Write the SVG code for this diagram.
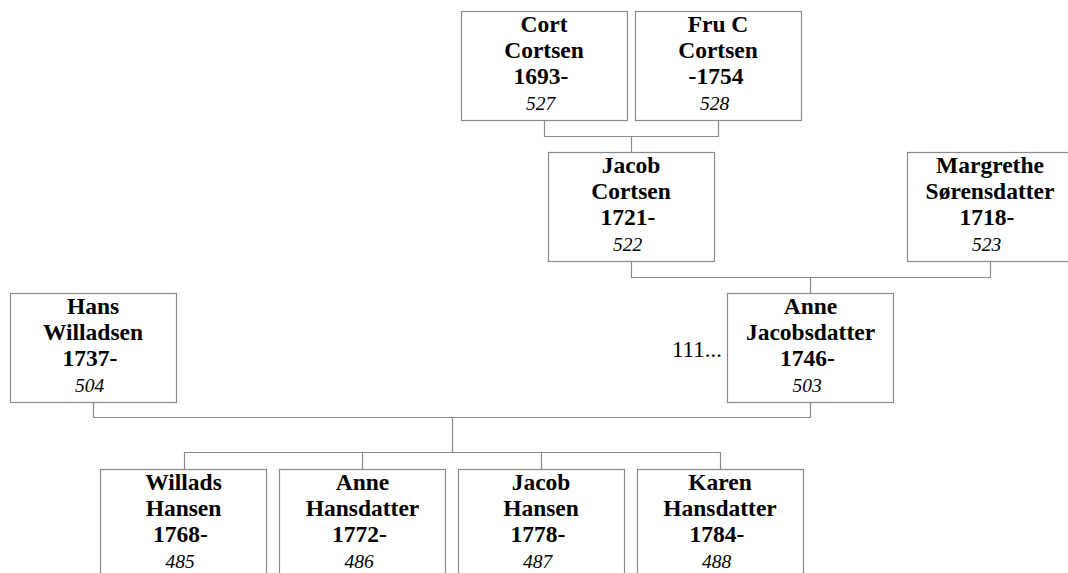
<svg xmlns="http://www.w3.org/2000/svg" width="1068" height="573" viewBox="0 0 1068 573">
<style>
.box{fill:#fff;stroke:#8a8a8a;stroke-width:1.2}
.ln{fill:none;stroke:#8a8a8a;stroke-width:1.2}
.n{font-family:"Liberation Serif","Times New Roman",serif;font-weight:bold;font-size:23.5px;text-anchor:middle;fill:#000}
.i{font-family:"Liberation Serif","Times New Roman",serif;font-style:italic;font-size:19.5px;text-anchor:middle;fill:#000}
.r{font-family:"Liberation Serif","Times New Roman",serif;font-size:23px;text-anchor:end;fill:#000}
</style>
<rect width="1068" height="573" fill="#fff"/>
<g id="connectors">
<polyline class="ln" points="544.5,120 544.5,136.5 718.5,136.5 718.5,120"/>
<line class="ln" x1="631.5" y1="136.5" x2="631.5" y2="152"/>
<polyline class="ln" points="631.5,261 631.5,277.5 990.5,277.5 990.5,261"/>
<line class="ln" x1="810.5" y1="277.5" x2="810.5" y2="293"/>
<polyline class="ln" points="93.5,402 93.5,417.5 810.5,417.5 810.5,402"/>
<line class="ln" x1="452.5" y1="417.5" x2="452.5" y2="452.5"/>
<polyline class="ln" points="184.5,469 184.5,452.5 720.5,452.5 720.5,469"/>
<line class="ln" x1="362.5" y1="452.5" x2="362.5" y2="469"/>
<line class="ln" x1="541.5" y1="452.5" x2="541.5" y2="469"/>
</g>
<g id="n527">
<rect class="box" x="461.5" y="11.5" width="166" height="109"/>
<text class="n" x="544" y="32">Cort</text>
<text class="n" x="544" y="58">Cortsen</text>
<text class="n" x="541" y="84">1693-</text>
<text class="i" x="540.5" y="109.5">527</text>
</g>
<g id="n528">
<rect class="box" x="635.5" y="11.5" width="166" height="109"/>
<text class="n" x="718" y="32">Fru C</text>
<text class="n" x="718" y="58">Cortsen</text>
<text class="n" x="716" y="84">-1754</text>
<text class="i" x="714.5" y="109.5">528</text>
</g>
<g id="n522">
<rect class="box" x="548.5" y="152.5" width="166" height="109"/>
<text class="n" x="631" y="173">Jacob</text>
<text class="n" x="631" y="199">Cortsen</text>
<text class="n" x="628" y="225">1721-</text>
<text class="i" x="627.5" y="250.5">522</text>
</g>
<g id="n523">
<rect class="box" x="907.5" y="152.5" width="166" height="109"/>
<text class="n" x="990" y="173">Margrethe</text>
<text class="n" x="990" y="199">Sørensdatter</text>
<text class="n" x="987" y="225">1718-</text>
<text class="i" x="986.5" y="250.5">523</text>
</g>
<g id="n504">
<rect class="box" x="10.5" y="293.5" width="166" height="109"/>
<text class="n" x="93" y="314">Hans</text>
<text class="n" x="93" y="340">Willadsen</text>
<text class="n" x="90" y="366">1737-</text>
<text class="i" x="89.5" y="391.5">504</text>
</g>
<g id="n503">
<rect class="box" x="727.5" y="293.5" width="166" height="109"/>
<text class="n" x="810.5" y="314">Anne</text>
<text class="n" x="810.5" y="340">Jacobsdatter</text>
<text class="n" x="807.5" y="366">1746-</text>
<text class="i" x="807" y="391.5">503</text>
<text class="r" x="722" y="357">111...</text>
</g>
<g id="n485">
<rect class="box" x="100.5" y="469.5" width="166" height="109"/>
<text class="n" x="183.5" y="490">Willads</text>
<text class="n" x="183.5" y="516">Hansen</text>
<text class="n" x="180.5" y="542">1768-</text>
<text class="i" x="180" y="567.5">485</text>
</g>
<g id="n486">
<rect class="box" x="279.5" y="469.5" width="166" height="109"/>
<text class="n" x="362.5" y="490">Anne</text>
<text class="n" x="362.5" y="516">Hansdatter</text>
<text class="n" x="359.5" y="542">1772-</text>
<text class="i" x="359" y="567.5">486</text>
</g>
<g id="n487">
<rect class="box" x="458.5" y="469.5" width="166" height="109"/>
<text class="n" x="541" y="490">Jacob</text>
<text class="n" x="541" y="516">Hansen</text>
<text class="n" x="538" y="542">1778-</text>
<text class="i" x="537.5" y="567.5">487</text>
</g>
<g id="n488">
<rect class="box" x="637.5" y="469.5" width="166" height="109"/>
<text class="n" x="720" y="490">Karen</text>
<text class="n" x="720" y="516">Hansdatter</text>
<text class="n" x="717" y="542">1784-</text>
<text class="i" x="716.5" y="567.5">488</text>
</g>
</svg>
